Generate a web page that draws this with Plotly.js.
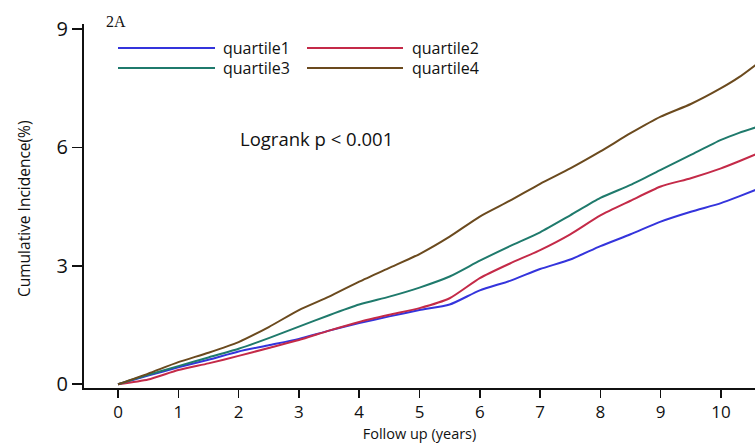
<!DOCTYPE html>
<html>
<head>
<meta charset="utf-8">
<script src="https://cdn.plot.ly/plotly-3.0.1.min.js"></script>
<style>html,body{margin:0;padding:0;background:#fff;}#chart{width:755px;height:443px;}</style>
</head>
<body>
<div id="chart"></div>
<script>
// Follow-up time points (years)
var years = [0, 0.5, 1, 1.5, 2, 2.5, 3, 3.5, 4, 4.5, 5, 5.5, 6, 6.5, 7, 7.5, 8, 8.5, 9, 9.5, 10, 10.3, 10.6];
// Cumulative incidence (%) per quartile
var quartile1 = [0, 0.22, 0.43, 0.62, 0.83, 0.99, 1.15, 1.36, 1.55, 1.72, 1.88, 2.02, 2.38, 2.62, 2.92, 3.16, 3.50, 3.80, 4.12, 4.37, 4.59, 4.76, 4.94];
var quartile2 = [0, 0.12, 0.36, 0.53, 0.72, 0.92, 1.12, 1.36, 1.58, 1.76, 1.93, 2.18, 2.69, 3.06, 3.40, 3.80, 4.28, 4.65, 5.01, 5.22, 5.47, 5.65, 5.84];
var quartile3 = [0, 0.24, 0.46, 0.68, 0.90, 1.17, 1.46, 1.75, 2.02, 2.22, 2.45, 2.73, 3.13, 3.50, 3.85, 4.28, 4.72, 5.05, 5.43, 5.81, 6.19, 6.37, 6.52];
var quartile4 = [0, 0.27, 0.56, 0.80, 1.07, 1.45, 1.88, 2.22, 2.60, 2.95, 3.30, 3.74, 4.25, 4.65, 5.08, 5.47, 5.90, 6.36, 6.78, 7.10, 7.50, 7.78, 8.12];
var seriesNames = ['quartile1', 'quartile2', 'quartile3', 'quartile4'];
var seriesColors = ['#3434dc', '#c42a48', '#1f7a6c', '#6b4a1e'];
var yTicks = [0, 3, 6, 9];
var xTicks = [0, 1, 2, 3, 4, 5, 6, 7, 8, 9, 10];

var allSeries = [quartile1, quartile2, quartile3, quartile4];
var traces = allSeries.map(function (vals, i) {
  return {
    x: years, y: vals, type: 'scatter', mode: 'lines',
    name: seriesNames[i], showlegend: false,
    line: {color: seriesColors[i], width: 2, shape: 'spline', smoothing: 0.6}
  };
});

// Plot area geometry helpers (paper fractions) for legend drawing
var L = 84, T = 24, W = 755, H = 443, B = 55;
var pw = W - L, ph = H - T - B;
function px(x) { return (x - L) / pw; }
function py(y) { return (T + ph - y) / ph; }

var shapes = [];
var annotations = [];
var legendPos = [
  {x0: 118, x1: 215, tx: 221, y: 48},
  {x0: 307, x1: 403, tx: 410, y: 48},
  {x0: 118, x1: 215, tx: 221, y: 68},
  {x0: 307, x1: 403, tx: 410, y: 68}
];
seriesNames.forEach(function (n, i) {
  var p = legendPos[i];
  shapes.push({type: 'line', xref: 'paper', yref: 'paper', x0: px(p.x0), x1: px(p.x1), y0: py(p.y), y1: py(p.y),
    line: {color: seriesColors[i], width: 2}});
  annotations.push({xref: 'paper', yref: 'paper', x: px(p.tx), y: py(p.y), xanchor: 'left', yanchor: 'middle',
    text: n, showarrow: false, font: {family: 'Open Sans', size: 16, color: '#111'}});
});
annotations.push({xref: 'paper', yref: 'paper', x: px(238), y: py(138), xanchor: 'left', yanchor: 'middle',
  text: 'Logrank p < 0.001', showarrow: false, font: {family: 'Open Sans', size: 18.5, color: '#111'}});
annotations.push({xref: 'paper', yref: 'paper', x: px(104), y: py(21), xanchor: 'left', yanchor: 'middle',
  text: '2A', showarrow: false, font: {family: 'Liberation Serif', size: 16, color: '#111'}});
// y-axis title
annotations.push({xref: 'paper', yref: 'paper', x: px(24), y: py(209), xanchor: 'center', yanchor: 'middle',
  textangle: -90, text: 'Cumulative Incidence(%)', showarrow: false,
  font: {family: 'Open Sans', size: 15.5, color: '#111'}});

var layout = {
  width: W, height: H,
  margin: {l: L, r: 0, t: T, b: B},
  paper_bgcolor: '#fff', plot_bgcolor: '#fff',
  showlegend: false,
  xaxis: {
    range: [-0.564, 10.564], tickvals: xTicks, ticktext: xTicks.map(String),
    showgrid: false, zeroline: false, showline: true, linecolor: '#111', linewidth: 2,
    ticks: 'outside', ticklen: 8, tickwidth: 1.6, tickcolor: '#111',
    tickfont: {family: 'Open Sans', size: 17, color: '#111'},
    title: {text: 'Follow up (years)', font: {family: 'Open Sans', size: 14.5, color: '#111'}, standoff: 6},
    automargin: false, fixedrange: true
  },
  yaxis: {
    range: [-0.094, 9.127], tickvals: yTicks, ticktext: yTicks.map(String),
    showgrid: false, zeroline: false, showline: true, linecolor: '#111', linewidth: 2,
    ticks: 'outside', ticklen: 10, tickwidth: 1.6, tickcolor: '#111',
    tickfont: {family: 'Open Sans', size: 20, color: '#111'},
    automargin: false, fixedrange: true
  },
  shapes: shapes,
  annotations: annotations
};

Plotly.newPlot('chart', traces, layout, {displayModeBar: false, staticPlot: true});
</script>
</body>
</html>
